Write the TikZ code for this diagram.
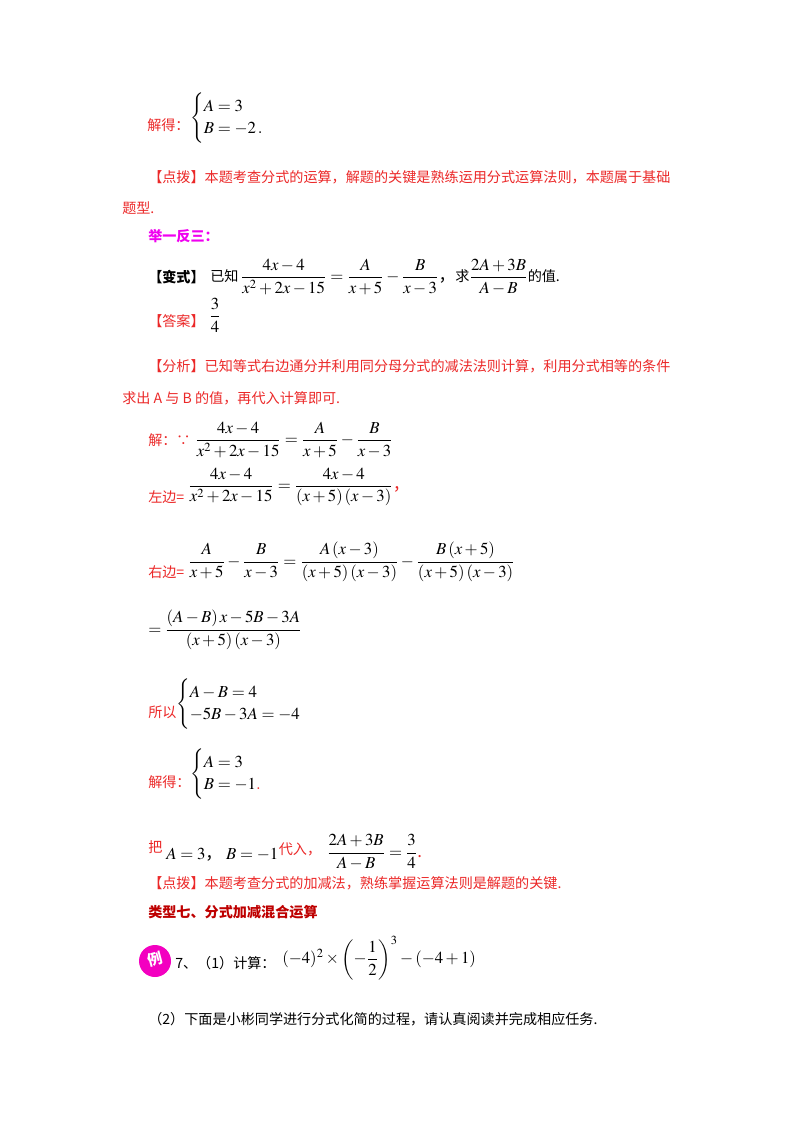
\documentclass[tikz,border=0pt]{standalone}
\usepackage{amsmath}
\usepackage{mathptmx}
\usepackage{fontspec}
\setmainfont{Noto Sans CJK SC}
\usetikzlibrary{positioning}
\definecolor{hintred}{RGB}{235,40,40}
\definecolor{typered}{RGB}{190,0,0}
\definecolor{pinkmag}{RGB}{240,0,240}
\tikzset{
  txt/.style={anchor=base west, inner sep=0pt, font=\fontsize{10.5}{12}\selectfont},
  redtxt/.style={txt, text=hintred},
  mth/.style={anchor=west, inner sep=0pt, font=\fontsize{12.5}{14}\selectfont},
}
\begin{document}
\begin{tikzpicture}[x=0.744pt, y=-0.744pt]
  \useasboundingbox (0,0) rectangle (800,1132);
  % first solution
  \node[redtxt] (sol1) at (147,130) {解得：};
  \node[mth] (sys1) at (190,118) {$\begin{cases} A=3\\ B=-2\,. \end{cases}$};
  \node[redtxt] (hint1) at (148,182) {【点拨】本题考查分式的运算，解题的关键是熟练运用分式运算法则，本题属于基础};
  \node[redtxt] (hint1b) at (122,213) {题型.};
  \node[txt, text=pinkmag, font=\fontsize{10.5}{12}\bfseries] (juyi) at (148,241) {举一反三：};
  % variant
  \node[txt, font=\fontsize{10.5}{12}\bfseries] (bianshi) at (148,282) {【变式】};
  \node[mth] (bsq) at (210,277) {\fontsize{10.5}{12}\selectfont 已知\,\fontsize{12.5}{14}\selectfont$\dfrac{4x-4}{x^2+2x-15}=\dfrac{A}{x+5}-\dfrac{B}{x-3}$，\fontsize{10.5}{12}\selectfont 求\fontsize{12.5}{14}\selectfont$\dfrac{2A+3B}{A-B}$\fontsize{10.5}{12}\selectfont 的值.};
  \node[redtxt] (daan) at (148,326) {【答案】};
  \node[mth, right=3pt of daan.east, anchor=west, yshift=4pt] (ans) {$\dfrac{3}{4}$};
  \node[redtxt] (fenxi) at (148,371) {【分析】已知等式右边通分并利用同分母分式的减法法则计算，利用分式相等的条件};
  \node[redtxt] (fenxib) at (122,403) {求出 A 与 B 的值，再代入计算即可.};
  % working
  \node[redtxt] (jie) at (148,445) {解：∵};
  \node[mth] (eq1) at (195,440) {$\dfrac{4x-4}{x^2+2x-15}=\dfrac{A}{x+5}-\dfrac{B}{x-3}$};
  \node[redtxt] (zuo) at (148,502) {左边=};
  \node[mth] (eq2) at (188,487) {$\dfrac{4x-4}{x^2+2x-15}=\dfrac{4x-4}{\left(x+5\right)\left(x-3\right)}$\textcolor{hintred}{，}};
  \node[redtxt] (you) at (148,577) {右边=};
  \node[mth] (eq3) at (188,562) {$\dfrac{A}{x+5}-\dfrac{B}{x-3}=\dfrac{A\left(x-3\right)}{\left(x+5\right)\left(x-3\right)}-\dfrac{B\left(x+5\right)}{\left(x+5\right)\left(x-3\right)}$};
  \node[mth] (eq4) at (148,630) {$=\dfrac{\left(A-B\right)x-5B-3A}{\left(x+5\right)\left(x-3\right)}$};
  \node[redtxt] (suoyi) at (148,717) {所以};
  \node[mth] (sys2) at (176,704) {$\begin{cases} A-B=4\\ -5B-3A=-4 \end{cases}$};
  \node[redtxt] (sol2) at (148,787) {解得：};
  \node[mth] (sys3) at (190,774) {$\begin{cases} A=3\\ B=-1\textcolor{hintred}{.} \end{cases}$};
  \node[redtxt] (ba) at (148,852) {把};
  \node[mth] (subs) at (166,855) {$A=3$，\ $B=-1$};
  \node[redtxt, right=0pt of subs.east, anchor=west, yshift=4pt] (dairu) {代入，};
  \node[mth, right=4pt of dairu.east, anchor=west, yshift=-2pt] (res) {$\dfrac{2A+3B}{A-B}=\dfrac{3}{4}$\textcolor{hintred}{.}};
  \node[redtxt] (hint2) at (148,888) {【点拨】本题考查分式的加减法，熟练掌握运算法则是解题的关键.};
  \node[txt, text=typered, font=\fontsize{10.5}{12}\bfseries] (leixing) at (148,917) {类型七、分式加减混合运算};
  % example 7
  \fill[pinkmag!80!red] (155,961) circle (16);
  \node[inner sep=0pt, text=white, font=\fontsize{11}{12}\bfseries, rotate=15] (li) at (155,959) {例};
  \node[txt] (ex7) at (175,968) {7、（1）计算：};
  \node[mth] (calc) at (282,958) {$(-4)^2\times\left(-\dfrac{1}{2}\right)^3-(-4+1)$};
  \node[txt] (ex7b) at (148,1024) {（2）下面是小彬同学进行分式化简的过程，请认真阅读并完成相应任务.};
\end{tikzpicture}
\end{document}
